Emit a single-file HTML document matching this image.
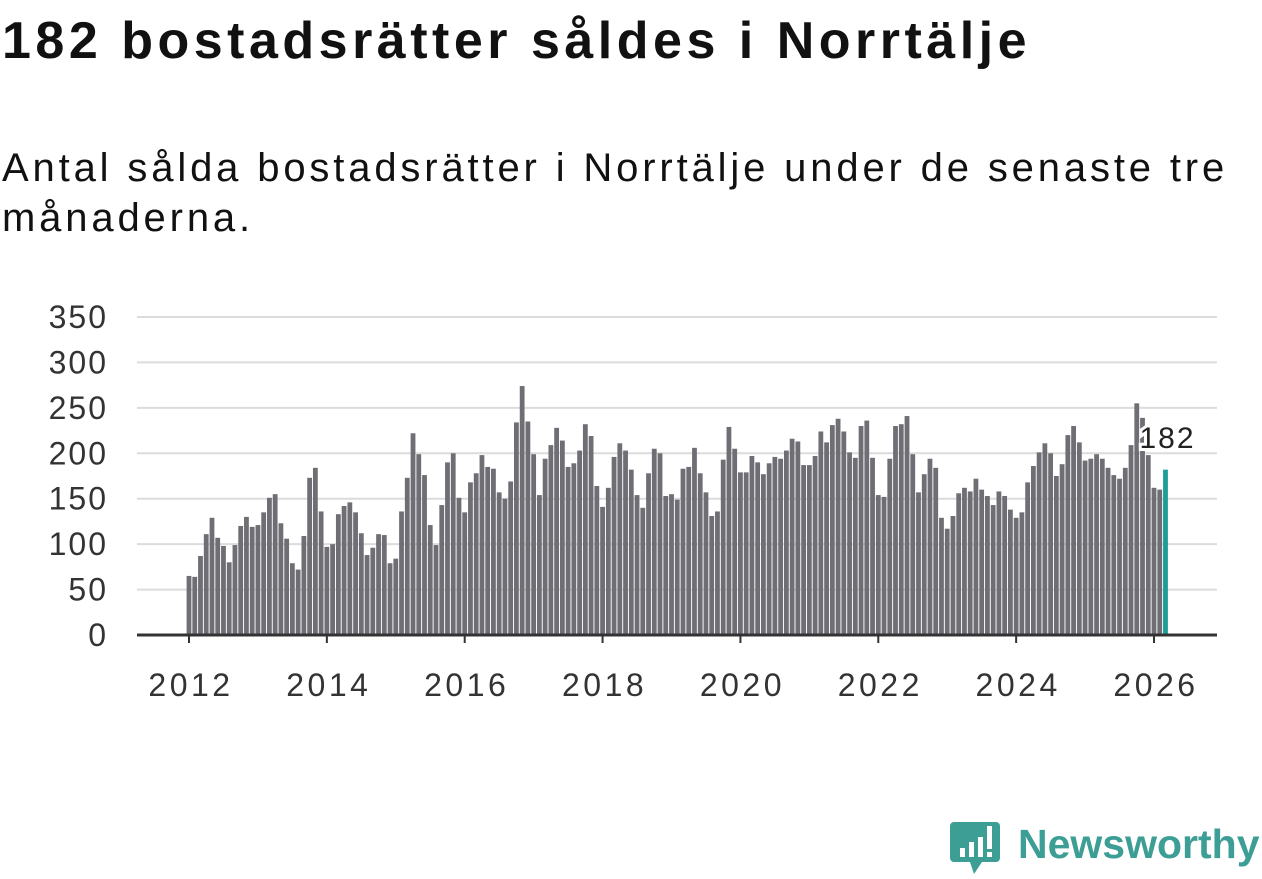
<!DOCTYPE html>
<html><head><meta charset="utf-8">
<style>
body{margin:0;background:#fff;width:1262px;height:879px;overflow:hidden;font-family:"Liberation Sans",sans-serif;}
#title{position:absolute;left:2px;top:11px;font-size:52px;font-weight:bold;color:#111;margin:0;letter-spacing:4.5px;white-space:nowrap}
#sub{position:absolute;left:2px;top:143px;font-size:40px;color:#111;line-height:50px;width:1250px;margin:0;letter-spacing:3.85px}
svg{position:absolute;left:0;top:0}
</style></head><body>
<h1 id="title">182 bostadsrätter såldes i Norrtälje</h1>
<p id="sub">Antal sålda bostadsrätter i Norrtälje under de senaste tre månaderna.</p>
<svg id="chart" width="1262" height="879"></svg>
<script>
const values=[65,64,87,111,129,107,98,80,99,120,130,119,121,135,151,155,123,106,79,72,109,173,184,136,97,100,133,142,146,135,112,88,96,111,110,79,84,136,173,222,199,176,121,99,
143,190,200,151,135,168,178,198,185,183,157,150,169,234,274,235,199,154,194,209,228,214,185,189,203,232,219,164,141,162,196,211,203,182,154,140,178,205,200,153,155,149,183,185,
206,178,157,131,136,193,229,205,179,179,197,190,177,189,196,194,203,216,213,187,187,197,224,212,231,238,224,201,195,230,236,195,154,152,194,230,232,241,199,157,177,194,184,
129,117,131,156,162,158,172,160,153,143,158,153,138,129,135,168,186,201,211,200,175,188,220,230,212,192,194,199,194,184,176,172,184,209,255,239,198,162,160,182];
const yTicks=[0,50,100,150,200,250,300,350];
const xTicks=[2012,2014,2016,2018,2020,2022,2024,2026];
const startYear=2012;
const NS="http://www.w3.org/2000/svg";
const svg=document.getElementById('chart');
const y=v=>635-v*(318/350);
const x=m=>189+m*(965/168);
function el(t,a){const e=document.createElementNS(NS,t);for(const k in a)e.setAttribute(k,a[k]);svg.appendChild(e);return e;}
yTicks.forEach(t=>{
  if(t>0){const g=el('line',{x1:137,x2:1217,y1:y(t),y2:y(t),stroke:'#dcdcdc','stroke-width':2});
  
  }
  const l=el('text',{x:108,y:y(t)+11,'text-anchor':'end','font-size':32,fill:'#333','letter-spacing':2});
  l.textContent=t;
  
  
});
values.forEach((v,i)=>{
  const last=i===values.length-1;
  const r=el('rect',{x:x(i)-2.4,y:y(v),width:4.8,height:635-y(v),fill:last?'#1a9e96':'#6f6e75'});
  
  
});
const ax=el('line',{x1:137,x2:1217,y1:635,y2:635,stroke:'#333','stroke-width':3});


xTicks.forEach(yr=>{
  const px=x((yr-startYear)*12);
  const tk=el('line',{x1:px,x2:px,y1:635,y2:643,stroke:'#333','stroke-width':2});
  
  
  const l=el('text',{x:px+2,y:696,'text-anchor':'middle','font-size':32,fill:'#333','letter-spacing':3.5});
  l.textContent=yr;
  
  
});
const li=values.length-1;
const lab=el('text',{x:x(li)+2,y:448,'text-anchor':'middle','font-size':30,fill:'#222',stroke:'#fff','stroke-width':6,'paint-order':'stroke','letter-spacing':2});
lab.textContent=values[li];


</script>
<svg width="310" height="60" style="left:950px;top:818px">
<path d="M4 4 h42 a4 4 0 0 1 4 4 v32 a4 4 0 0 1 -4 4 h-14 l-8 12 l-4 -12 h-16 a4 4 0 0 1 -4 -4 v-32 a4 4 0 0 1 4 -4z" fill="#3d9e96"/>
<rect x="10" y="30" width="5" height="9" fill="#fff"/><rect x="19" y="24" width="5" height="15" fill="#fff"/><rect x="28" y="19" width="5" height="20" fill="#fff"/><rect x="37" y="8" width="5" height="23" fill="#fff"/><rect x="37" y="34" width="5" height="5" fill="#fff"/>
<text x="68" y="40" font-size="41" font-weight="bold" fill="#3d9e96" font-family="Liberation Sans, sans-serif">Newsworthy</text>
</svg>
</body></html>
